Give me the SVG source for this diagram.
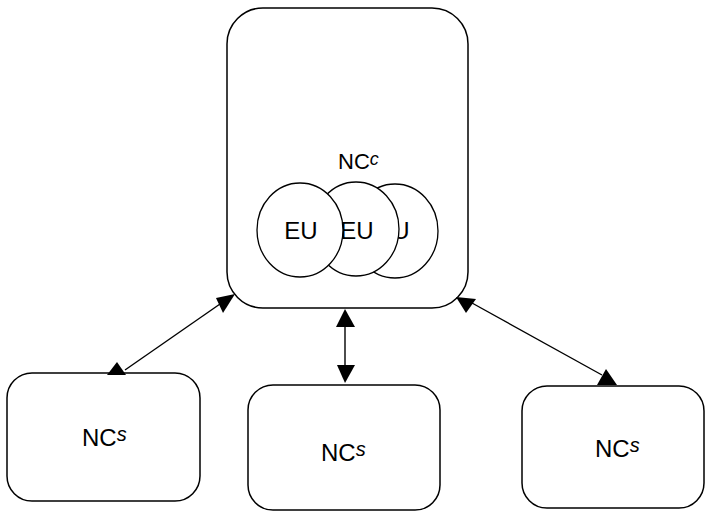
<svg xmlns="http://www.w3.org/2000/svg" width="706" height="512" viewBox="0 0 706 512">
  <style>
    .box { fill: #fff; stroke: #000; stroke-width: 1.5; }
    .eu { fill: #fff; stroke: #000; stroke-width: 1.3; }
    .lbl { font-family: "Liberation Sans", Arial, sans-serif; font-size: 24px; fill: #000; }
    .sub { font-size: 20px; font-style: italic; }
    .link { stroke: #000; stroke-width: 1.4; fill: none; }
    .head { fill: #000; stroke: none; }
  </style>
  <rect width="706" height="512" fill="#fff"/>

  <g id="ncc">
    <rect class="box" x="227" y="8" width="241" height="300" rx="36"/>
    <text class="lbl" x="338" y="169" style="font-size:22px">NC<tspan class="sub" dy="-4" style="font-size:18px">c</tspan></text>
    <g id="eu3">
      <ellipse class="eu" cx="395" cy="231" rx="43" ry="47"/>
      <text class="lbl" x="393" y="239" text-anchor="middle">EU</text>
    </g>
    <g id="eu2">
      <ellipse class="eu" cx="356" cy="229" rx="43" ry="47"/>
      <text class="lbl" x="357" y="239" text-anchor="middle">EU</text>
    </g>
    <g id="eu1">
      <ellipse class="eu" cx="300" cy="230" rx="43" ry="47"/>
      <text class="lbl" x="301" y="239" text-anchor="middle">EU</text>
    </g>
  </g>

  <g id="ncs-left">
    <rect class="box" x="7" y="373" width="193" height="128" rx="25"/>
    <text class="lbl" x="82" y="446">NC<tspan class="sub" dy="-5">s</tspan></text>
  </g>
  <g id="ncs-mid">
    <rect class="box" x="248" y="385" width="192" height="125" rx="25"/>
    <text class="lbl" x="321" y="461">NC<tspan class="sub" dy="-5">s</tspan></text>
  </g>
  <g id="ncs-right">
    <rect class="box" x="522" y="386" width="182" height="122" rx="25"/>
    <text class="lbl" x="595" y="457">NC<tspan class="sub" dy="-5">s</tspan></text>
  </g>

  <g id="connectors">
    <line class="link" x1="125" y1="370" x2="220" y2="304"/>
    <polygon class="head" points="216,298 235,294 223,313"/>
    <polygon class="head" points="107,375 126,375 117,362"/>

    <line class="link" x1="345" y1="326" x2="345" y2="366"/>
    <polygon class="head" points="336,327 355,327 345,309"/>
    <polygon class="head" points="337,365 355,365 345,383"/>

    <line class="link" x1="472" y1="303" x2="602" y2="375"/>
    <polygon class="head" points="456,297 476,299 466,313"/>
    <polygon class="head" points="597,385 617,385 606,369"/>
  </g>
</svg>
